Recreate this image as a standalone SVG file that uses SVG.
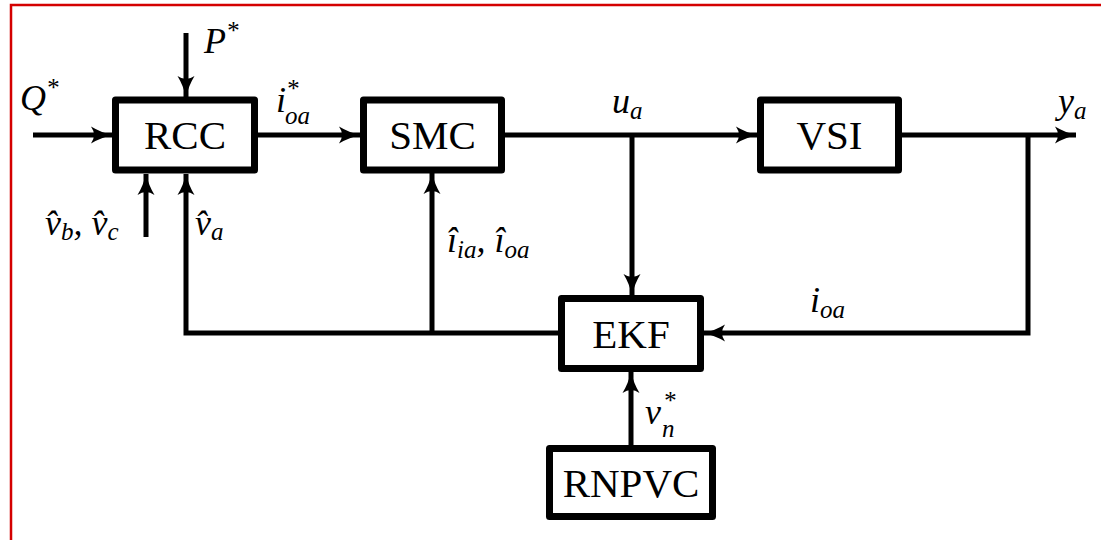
<svg xmlns="http://www.w3.org/2000/svg" width="1101" height="540" viewBox="0 0 1101 540">
<style>
.box{fill:#fff;stroke:#000;stroke-width:7;stroke-linejoin:round}
.bt{font-family:"Liberation Serif","DejaVu Serif",serif;font-size:41px;text-anchor:middle;fill:#000}
.m{font-family:"Liberation Serif","DejaVu Serif",serif;font-style:italic;font-size:36px;fill:#000}
.s{font-size:25px}
.c{fill:none;stroke:#000;stroke-width:5}
</style>
<defs>
<marker id="ah" markerUnits="userSpaceOnUse" viewBox="-1 -10 23 20" refX="21" refY="0" markerWidth="23" markerHeight="20" orient="auto">
<path d="M21,0 Q10,-2.5 0,-8.5 Q6,0 0,8.5 Q10,2.5 21,0 Z" fill="#000"/>
</marker>
</defs>
<rect x="0" y="0" width="1101" height="540" fill="#fff"/>
<path d="M11,540 V5 H1101" fill="none" stroke="#d40000" stroke-width="2.5"/>
<g id="connectors">
<path class="c" d="M33,135 H112" marker-end="url(#ah)"/>
<path class="c" d="M186,33 V97" marker-end="url(#ah)"/>
<path class="c" d="M146,237 V174" marker-end="url(#ah)"/>
<path class="c" d="M258,135 H360" marker-end="url(#ah)"/>
<path class="c" d="M505,135 H757" marker-end="url(#ah)"/>
<path class="c" d="M632,135 V295" marker-end="url(#ah)"/>
<path class="c" d="M902,135 H1076" marker-end="url(#ah)"/>
<path class="c" d="M1028,135 V333 H704" marker-end="url(#ah)"/>
<path class="c" d="M558,333 H186 V174" marker-end="url(#ah)"/>
<path class="c" d="M432,333 V173" marker-end="url(#ah)"/>
<path class="c" d="M631,445 V372" marker-end="url(#ah)"/>
</g>
<g id="RCC"><rect class="box" x="115.5" y="100" width="139" height="70"/><text class="bt" x="185" y="149">RCC</text></g>
<g id="SMC"><rect class="box" x="363.5" y="100" width="138" height="70"/><text class="bt" x="432.5" y="149">SMC</text></g>
<g id="VSI"><rect class="box" x="760.5" y="100" width="138" height="70"/><text class="bt" x="829.5" y="149">VSI</text></g>
<g id="EKF"><rect class="box" x="561.5" y="298.5" width="139" height="70"/><text class="bt" x="631" y="348">EKF</text></g>
<g id="RNPVC"><rect class="box" x="549.5" y="448.5" width="163" height="68"/><text class="bt" x="631" y="497">RNPVC</text></g>
<g id="labels">
<text class="m" x="20" y="110">Q<tspan class="s" dy="-14">*</tspan></text>
<text class="m" x="204" y="53">P<tspan class="s" dy="-14">*</tspan></text>
<text class="m" x="276" y="112">i</text>
<text class="m s" x="286" y="97">*</text>
<text class="m s" x="285" y="124">oa</text>
<text class="m" x="612" y="113">u<tspan class="s" dy="6">a</tspan></text>
<text class="m" x="1058" y="113">y<tspan class="s" dy="6">a</tspan></text>
<text class="m" x="45" y="235">v̂<tspan class="s" dy="5">b</tspan><tspan dy="-5">, v̂</tspan><tspan class="s" dy="5">c</tspan></text>
<text class="m" x="195" y="235">v̂<tspan class="s" dy="5">a</tspan></text>
<text class="m" x="447" y="252">î<tspan class="s" dy="6">ia</tspan><tspan dy="-6">, î</tspan><tspan class="s" dy="6">oa</tspan></text>
<text class="m" x="810" y="312">i<tspan class="s" dy="6">oa</tspan></text>
<text class="m" x="645" y="424">v</text>
<text class="m s" x="663" y="409">*</text>
<text class="m s" x="662" y="437">n</text>
</g>
</svg>
